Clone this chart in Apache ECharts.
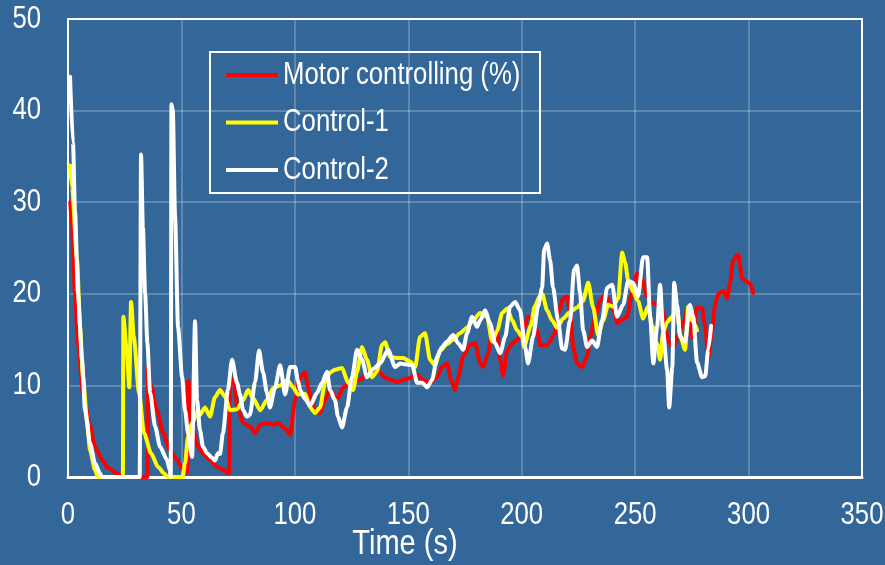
<!DOCTYPE html>
<html>
<head>
<meta charset="utf-8">
<script src="https://cdn.jsdelivr.net/npm/echarts@6/dist/echarts.min.js"></script>
<style>
  html, body { margin: 0; padding: 0; background: #336699; }
  #chart { width: 885px; height: 565px; }
</style>
</head>
<body>
<div id="chart"></div>
<script>
// series names
var seriesNames = ['Motor controlling (%)', 'Control-1', 'Control-2'];
var xName = 'Time (s)';

// x ticks (s) and y ticks
var xTicks = [0, 50, 100, 150, 200, 250, 300, 350];
var yTicks = [0, 10, 20, 30, 40, 50];

// [time (s), value]
var motorData = [
  [1, 30], [1.8, 27.3], [3.1, 20], [4.4, 14.6], [6.6, 9.2], [9.7, 5.5], [11.9, 3.3], [15, 1.9], [17.6, 1], [21.6, 0.4], [24, 0],
  [35, 0], [35.3, 12], [36.5, 10], [39.2, 7.3], [41.9, 4.8], [45, 2.9], [48, 1.9], [50.7, 0.8], [52.5, 0.5],
  [53, 10.5], [55.1, 5.1], [57.3, 3.3], [59.5, 2.6], [62.6, 1.9], [65.7, 1.1], [68.3, 0.8], [71, 0.4],
  [71.4, 10.9], [72.8, 10.6], [75, 7.3], [77.2, 5.9], [80.2, 5.5], [82.5, 4.8], [84.7, 5.7], [87.7, 5.9], [90.4, 5.7],
  [92.6, 5.9], [95.7, 5.3], [97.9, 4.6], [100.1, 8.4], [102.3, 10.9], [104.5, 11.4], [105.8, 9.8], [107.6, 8],
  [108.9, 7.1], [111.1, 7], [113.3, 8.4], [115.5, 9.5], [118.6, 8.5], [121.3, 9.8], [124.3, 10.3], [128.8, 10.6],
  [131.8, 11.4], [134.5, 11.7], [137.6, 11.4], [139.8, 10.8], [145, 10.4], [147.7, 10.6], [150.8, 10.8], [153.9, 11.2],
  [156.5, 10.6], [159.6, 10.3], [162.7, 10.9], [164.9, 12], [167.1, 12.4], [168.9, 10.6], [170.6, 9.5], [172, 10.9],
  [174.2, 13.2], [177.2, 14.4], [179.5, 14.6], [181.7, 12.4], [183, 12], [185.2, 13.5], [187, 16], [189.2, 15.8],
  [190.5, 12.8], [191.8, 11.1], [193.6, 13.8], [195.8, 14.6], [198.4, 15], [200.6, 16], [202.8, 17.5], [204.6, 17.3],
  [206.8, 16], [208.1, 14.4], [211.2, 14.4], [214.7, 15.7], [216, 17.9], [218.3, 19.5], [220, 19.7], [221.3, 18],
  [222.7, 14.2], [224.4, 12.4], [226.6, 12], [228.8, 13.1], [230.2, 15.3], [232.4, 17.5], [234.6, 19.3], [236.8, 19.9],
  [239, 19], [241.2, 17.9], [242, 16.8], [244.3, 17.2], [246.5, 17.5], [248.7, 20.3], [250.9, 22.2], [253.1, 21.5],
  [255.3, 19.7], [257.5, 19], [260.1, 18.8], [262.3, 18], [264.6, 14.8], [266.8, 14.2], [269, 15.5], [271.2, 16.8],
  [272.9, 18.2], [275.1, 15.2], [277.3, 18.5], [279.5, 18.4], [280.9, 16.5], [282.2, 13], [283.9, 16], [285.3, 18.9],
  [286.6, 20], [288.8, 20.3], [290.6, 19.5], [291.9, 21.3], [293.2, 23.7], [295.4, 24.3], [297.2, 21.7], [299.4, 21.3],
  [300.7, 21.1], [302, 20.1]
];

var control1Data = [
  [0.9, 34], [1.8, 31.6], [4, 23.7], [5.3, 16.4], [6.6, 10.9], [8.4, 6.2], [9.7, 2.9], [11.9, 0.8], [13.2, 0],
  [24.2, 0], [24.4, 17.5], [26, 13.5], [27, 9.8], [27.8, 19.1], [29, 15.3], [31.3, 9.2], [33.5, 4.8], [36.6, 2.6],
  [39.7, 1.1], [42.3, 0.4], [44, 0], [50.5, 0], [51.6, 1.5], [52.9, 4.4], [53.8, 5.5], [55.1, 6], [57.3, 7.3],
  [58.2, 6.8], [60.4, 7.6], [62.6, 6.6], [64.8, 8.7], [67, 9.5], [69.2, 8.8], [71.4, 7.3], [74.5, 7.4], [77.2, 8.4],
  [79.4, 9.5], [81.6, 8.6], [84.7, 7.3], [87.7, 8.4], [90.4, 9.7], [93.5, 10], [96.6, 10.6], [99.2, 9.8], [101.4, 9],
  [104.5, 9.1], [106.7, 7.6], [108.9, 7], [111.1, 7.6], [113.3, 10.3], [115.5, 11.4], [117.7, 11.7], [120.8, 11.9],
  [123.5, 10.3], [125.7, 9.5], [127.4, 11.5], [129.6, 14.2], [131.8, 12.8], [134, 10.9], [136.2, 11.5], [138.4, 14.4],
  [139.8, 14.7], [142, 13.1], [145, 13], [147.7, 13], [150.8, 12.6], [153, 12], [155.2, 15.3], [157.4, 15.7],
  [159.6, 12.8], [161.8, 12.2], [164, 13.8], [167.1, 14.5], [169.8, 15], [172.8, 15.7], [175.9, 16.3], [178.6, 17.1],
  [181.7, 17.9], [184.7, 17.5], [187, 14.8], [189.2, 16], [191.4, 17.9], [193.6, 18.4], [195.8, 17.1], [198, 16],
  [200.2, 15.3], [201, 14.2], [204, 16.5], [205.7, 18.6], [207.9, 19.7], [209, 20], [211.2, 18.2], [213.4, 17.1],
  [215.6, 16.3], [218.3, 17.3], [221.3, 18], [224.4, 18.5], [227, 19.2], [229.3, 21.2], [231.5, 18.5], [233.7, 15.5],
  [235.9, 17.1], [238.1, 18.8], [240.3, 18.6], [242.5, 19.5], [244.3, 24.5], [245.6, 23.4], [246.9, 21.5],
  [249.1, 20.2], [251.3, 19.2], [253.5, 17.3], [255.7, 18.6], [257.5, 16.5], [259.7, 14.5], [261, 12.8], [262.3, 15.8],
  [264.1, 16.9], [266.3, 17.5], [268.5, 18.4], [269.8, 15.5], [272, 13.9], [273.4, 18.6], [275.1, 17.1], [277.3, 16]
];

var control2Data = [
  [0.9, 43.7], [2.2, 36.5], [3.1, 29], [4.4, 20], [6.2, 12.8], [7.5, 7.3], [9.7, 3.7], [11.9, 1.5], [14.1, 0.4], [15, 0],
  [31.6, 0], [32.2, 35.2], [33, 27.3], [34, 20], [35, 14.6], [36.2, 9.2], [38.4, 5.5], [40.6, 3.3], [43.6, 1.9],
  [44.8, 0.8], [45.3, 0], [45.6, 40.7], [46.2, 40], [47.2, 28.4], [48.5, 16.4], [50.3, 10.9], [51.6, 7.3], [52.9, 4.8],
  [54.7, 2.2], [56, 17], [56.9, 8.4], [58.2, 5.1], [59.5, 3.3], [61.3, 2.6], [63.5, 2.1], [64.8, 1.8], [66.1, 2.6],
  [67, 2.5], [68.3, 4.8], [70.5, 9.5], [72.3, 12.8], [74.5, 10.3], [75.8, 9], [77.2, 7.3], [78.9, 6.6], [80.2, 6.8],
  [82.5, 10.4], [84.2, 13.8], [86, 11.4], [87.7, 9.2], [89, 7.6], [91.3, 9.8], [93.5, 12.2], [95.7, 9], [97.9, 12],
  [100.1, 12], [101.4, 10.5], [102.3, 9.5], [104.5, 8.5], [106.7, 7.8], [109.8, 9.2], [112, 10.3], [114.2, 11.5],
  [115.5, 9.5], [117.7, 8.4], [119, 6.6], [120.8, 5.4], [123, 7.6], [125.2, 10.9], [127.4, 13.9], [129.6, 12.8],
  [131.8, 10.9], [134.5, 11.8], [137.6, 12.4], [141.1, 13.9], [144.2, 12], [146.4, 12.4], [148.6, 12.3], [151.7, 12.2],
  [153.9, 10.3], [156.1, 10.3], [158.3, 9.8], [160.5, 10.6], [162.7, 13.1], [164.9, 14.2], [167.1, 14.8], [169.8, 15.5],
  [172, 14.6], [174.2, 13.9], [175.9, 15.7], [178.1, 17.5], [180.3, 16.4], [181.7, 17.1], [183.9, 18.2], [186, 16.8],
  [188.3, 14.6], [190.5, 13.5], [192.7, 15.3], [194.9, 18.6], [197.1, 19.1], [199.3, 18.2], [201.5, 14.2], [202.8, 12.4],
  [205, 15.3], [207.2, 18.6], [209, 20.7], [209.9, 24.8], [211.2, 25.5], [212.5, 23.7], [213.8, 20.7], [216, 17.1],
  [217.8, 14], [219.1, 13.9], [221.3, 17.1], [223.1, 22.6], [224.4, 23.1], [225.7, 20.1], [227.1, 16], [228.8, 14.2],
  [231, 14.9], [233.2, 14.2], [235.4, 17.1], [237.7, 20.7], [239.9, 21], [242, 17.5], [244.7, 18.8], [246.9, 21.4],
  [249.1, 21.2], [251.3, 19.7], [253.5, 24], [255.3, 24], [256.6, 17.5], [258, 12.4], [259.7, 16.4], [261, 21],
  [262.3, 16], [264.1, 11.7], [265, 7.6], [266.4, 12], [267.2, 21.2], [268.5, 18.8], [269.8, 15.3], [272, 14.8],
  [274.2, 18.8], [275.6, 17.5], [277.3, 12.5], [279.5, 10.9], [280.9, 11], [282.2, 13.9], [283.5, 16.5]
];

var lineColors = ['#ff0000', '#ffff00', '#ffffff'];
var FONT = "'Liberation Sans', Arial, sans-serif";
var NARROW = 0.83; // the original uses a narrow Arial; squeeze text to match

var chart = echarts.init(document.getElementById('chart'));

function makeLine(i, data) {
  return {
    name: seriesNames[i],
    type: 'line',
    data: data,
    showSymbol: false,
    symbol: 'none',
    smooth: 0.25,
    smoothMonotone: 'x',
    itemStyle: { color: lineColors[i] },
    lineStyle: { color: lineColors[i], width: 4, join: 'round', cap: 'round' }
  };
}

chart.setOption({
  backgroundColor: '#336699',
  animation: false,
  grid: {
    left: 68, right: 23, top: 19, bottom: 88,
    show: true,
    borderColor: '#ffffff',
    borderWidth: 2,
    backgroundColor: 'transparent'
  },
  xAxis: {
    type: 'value',
    min: xTicks[0],
    max: xTicks[xTicks.length - 1],
    interval: 50,
    axisLine: { show: true, lineStyle: { color: '#ffffff', width: 3 } },
    axisTick: { show: false },
    axisLabel: { show: false },
    splitLine: { show: true, lineStyle: { color: 'rgba(255,255,255,0.3)', width: 1.5 } }
  },
  yAxis: {
    type: 'value',
    min: yTicks[0],
    max: yTicks[yTicks.length - 1],
    interval: 10,
    axisLine: { show: true, lineStyle: { color: '#ffffff', width: 2 } },
    axisTick: { show: false },
    axisLabel: { show: false },
    splitLine: { show: true, lineStyle: { color: 'rgba(255,255,255,0.3)', width: 1.5 } }
  },
  series: [
    makeLine(0, motorData),
    makeLine(1, control1Data),
    makeLine(2, control2Data)
  ]
});

// narrow text: tick labels, axis title and legend drawn as scaled text
function label(text, x, y, size, align) {
  return {
    type: 'text',
    x: x, y: y,
    scaleX: NARROW,
    silent: true,
    style: {
      text: text,
      fill: '#ffffff',
      fontSize: size,
      fontFamily: FONT,
      align: align,
      verticalAlign: 'middle'
    }
  };
}

var graphics = [];
xTicks.forEach(function (v) {
  var px = chart.convertToPixel({ xAxisIndex: 0 }, v);
  graphics.push(label(String(v), px, 515, 31, 'center'));
});
yTicks.forEach(function (v) {
  var py = chart.convertToPixel({ yAxisIndex: 0 }, v);
  graphics.push(label(String(v), 41, py, 31, 'right'));
});
graphics.push(label(xName, 405, 544, 35, 'center'));

// legend box
graphics.push({
  type: 'rect',
  silent: true,
  shape: { x: 210, y: 52, width: 330, height: 141 },
  style: { fill: 'none', stroke: '#ffffff', lineWidth: 2 }
});
seriesNames.forEach(function (name, i) {
  var cy = 75 + i * 47.5;
  graphics.push({
    type: 'line',
    silent: true,
    shape: { x1: 226, y1: cy, x2: 278, y2: cy },
    style: { stroke: lineColors[i], lineWidth: 4 }
  });
  graphics.push(label(name, 283, cy, 31, 'left'));
});

chart.setOption({ graphic: graphics });
</script>
</body>
</html>
